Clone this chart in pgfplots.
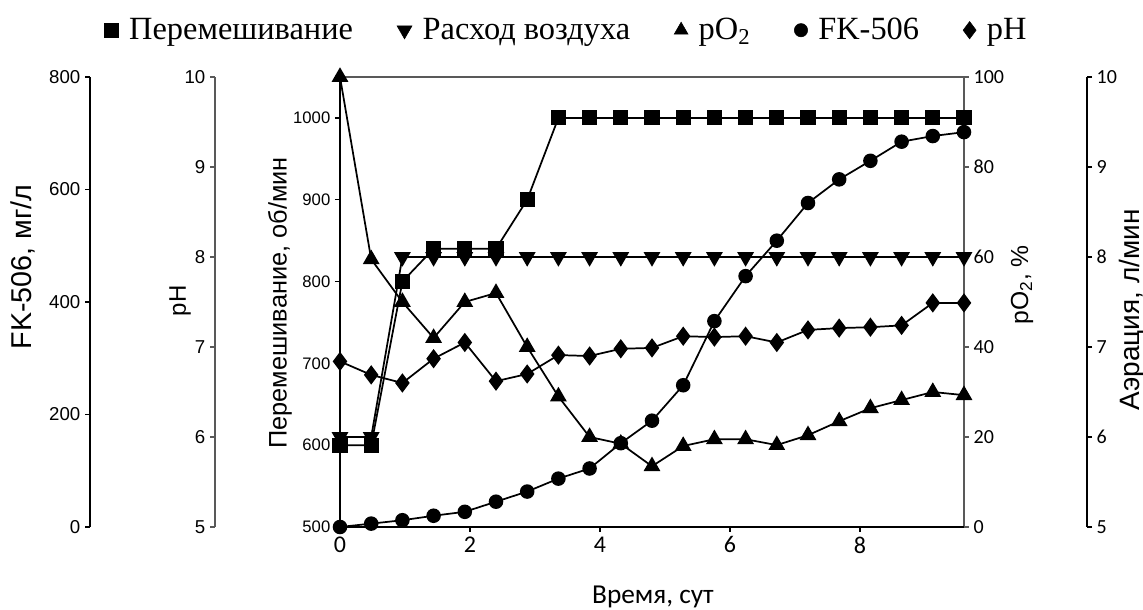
\documentclass[border=0pt]{standalone}
\usepackage{fontspec}
\usepackage{pgfplots}
\pgfplotsset{compat=1.18}
\setmainfont{Liberation Sans}
\newfontfamily\arialf{Liberation Sans}
\newfontfamily\timesf{Liberation Serif}
\newfontfamily\calf{Carlito}
\definecolor{axgray}{HTML}{595959}

\pgfplotstableread{
t     mix   air  po   fk   ph
0.00  600   6    100  0    6.84
0.48  600   6    59.5 6    6.69
0.96  800   8    50   12   6.60
1.44  840   8    42   20   6.87
1.92  840   8    50   27   7.05
2.40  840   8    52   45   6.62
2.88  900   8    40   63   6.70
3.36  1000  8    29   86   6.91
3.84  1000  8    20   104  6.90
4.32  1000  8    18.5 149  6.98
4.80  1000  8    13.5 189  6.99
5.28  1000  8    18   252  7.12
5.76  1000  8    19.5 366  7.11
6.24  1000  8    19.5 446  7.12
6.72  1000  8    18.2 509  7.05
7.20  1000  8    20.4 576  7.19
7.68  1000  8    23.5 618  7.21
8.16  1000  8    26.4 651  7.22
8.64  1000  8    28.2 685  7.24
9.12  1000  8    30   695  7.49
9.60  1000  8    29.3 702  7.49
}\data

\pgfplotsset{
  /pgf/number format/assume math mode=true,
  /pgf/number format/1000 sep={},
  base/.style={scale only axis, width=468pt, height=337.5pt,
    at={(255pt,62.25pt)}, anchor=south west, xmin=0, xmax=9.6, clip=false},
  ser/.style={black, line width=1.3pt},
  dummy/.style={scale only axis, width=10pt, height=337.5pt, xmin=0, xmax=1,
    hide x axis, tick align=outside, major tick length=3.75pt,
    yticklabel style={font=\arialf\fontsize{14}{16}\selectfont}},
  legend image code/.code={\draw[#1] plot coordinates {(0pt,0pt)};},
}

\begin{document}
\begin{tikzpicture}
\path[use as bounding box] (0,0) rectangle (857.25pt,457.5pt);

% FK-506 axis (far left)
\begin{axis}[dummy, at={(67.5pt,62.25pt)}, anchor=south west,
  ymin=0, ymax=800, ytick={0,200,...,800}, axis y line*=left,
  axis line style={black, line width=0.8pt}, ytick style={black, line width=0.8pt}]
\end{axis}
% pH axis
\begin{axis}[dummy, at={(161.25pt,62.25pt)}, anchor=south west,
  ymin=5, ymax=10, ytick={5,6,...,10}, axis y line*=left,
  axis line style={axgray, line width=1pt}, ytick style={axgray, line width=1pt}]
\end{axis}
% Aeration axis (far right)
\begin{axis}[dummy, at={(815.25pt,62.25pt)}, anchor=south east,
  ymin=5, ymax=10, ytick={5,6,...,10}, axis y line*=right,
  axis line style={black, line width=0.8pt}, ytick style={black, line width=0.8pt},
  yticklabel style={font=\calf\fontsize{15}{17}\selectfont}]
\end{axis}

% pO2 axis (right of main box) with triangles up
\begin{axis}[base, ymin=0, ymax=100, axis y line*=right, axis x line*=top,
  xtick=\empty, ytick={0,20,...,100}, tick align=outside, major tick length=3.75pt,
  axis line style={axgray, line width=1pt}, ytick style={axgray, line width=1pt},
  yticklabel style={font=\calf\fontsize{15}{17}\selectfont}]
\addplot[ser, mark=triangle*, mark size=6pt, mark options={solid, fill=black}] table[x=t, y=po] {\data};
\end{axis}

% FK-506 circles
\begin{axis}[base, ymin=0, ymax=800, hide axis]
\addplot[ser, mark=*, mark size=4.8pt, mark options={solid, fill=black}] table[x=t, y=fk] {\data};
\end{axis}

% pH diamonds
\begin{axis}[base, ymin=5, ymax=10, hide axis]
\addplot[ser, mark=diamond*, mark size=6.2pt, mark options={solid, fill=black}] table[x=t, y=ph] {\data};
\end{axis}

% Aeration inverted triangles
\begin{axis}[base, ymin=5, ymax=10, hide axis]
\addplot[ser, mark=triangle*, mark size=6pt, mark options={solid, fill=black, rotate=180}] table[x=t, y=air] {\data};
\end{axis}

% Main axis: stirring
\begin{axis}[base, ymin=500, ymax=1050, axis x line*=bottom, axis y line*=left,
  xtick={0,2,4,6,8}, ytick={500,600,...,1000}, tick align=outside, major tick length=3.75pt,
  axis line style={black, line width=1.1pt}, tick style={black, line width=1pt},
  yticklabel style={font=\arialf\fontsize{12.5}{14}\selectfont},
  xticklabel style={font=\calf\fontsize{18}{20}\selectfont},
  legend columns=5,
  legend style={at={(0.364,1.104)}, anchor=center, draw=none, fill=none,
    font=\timesf\fontsize{24.3}{27}\selectfont,
    nodes={inner xsep=2pt},
    /tikz/every odd column/.append style={column sep=6pt},
    /tikz/every even column/.append style={column sep=31pt}}]
\addplot[ser, mark=square*, mark size=5pt, mark options={solid, fill=black}] table[x=t, y=mix] {\data};
\addlegendentry{Перемешивание}
\addlegendimage{black, mark=triangle*, mark size=6.5pt, mark options={fill=black, rotate=180}}
\addlegendentry{Расход воздуха}
\addlegendimage{black, mark=triangle*, mark size=6pt, mark options={fill=black}}
\addlegendentry{pO\textsubscript{2}}
\addlegendimage{black, mark=*, mark size=5pt, mark options={fill=black}}
\addlegendentry{FK-506}
\addlegendimage{black, mark=diamond*, mark size=6.5pt, mark options={fill=black}}
\addlegendentry{pH}
\end{axis}

% Axis titles
\node[rotate=90, font=\arialf\fontsize{21.5}{24}\selectfont] at (17.25pt,257.25pt) {FK-506, мг/л};
\node[rotate=90, font=\arialf\fontsize{18}{20}\selectfont] at (135pt,231.75pt) {pH};
\node[rotate=90, font=\arialf\fontsize{19}{21}\selectfont] at (210pt,230.25pt) {Перемешивание, об/мин};
\node[rotate=90, font=\arialf\fontsize{18.5}{21}\selectfont] at (766.5pt,244pt) {pO\textsubscript{2}, \%};
\node[rotate=90, font=\arialf\fontsize{21}{23}\selectfont] at (849pt,225pt) {Аэрация, л/мин};
\node[font=\calf\fontsize{20.5}{23}\selectfont] at (489.75pt,9.75pt) {Время, сут};
\end{tikzpicture}
\end{document}
